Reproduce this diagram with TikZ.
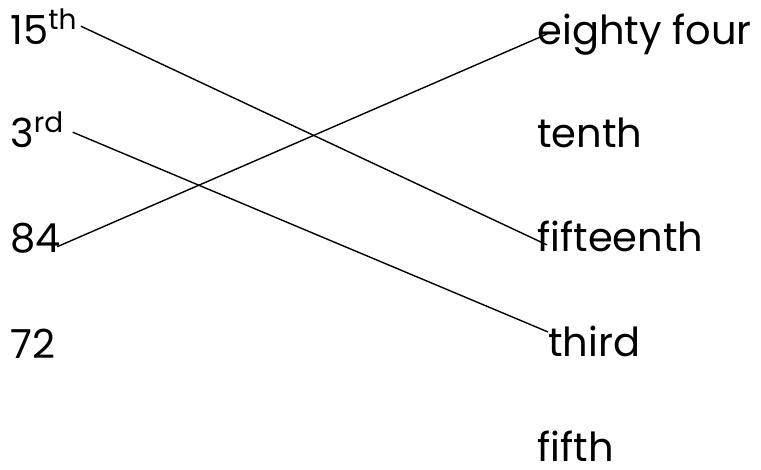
\documentclass[tikz,border=0pt]{standalone}
\usepackage{fontspec}
\setmainfont{Poppins}
\tikzstyle{num}=[anchor=base west,inner sep=0pt,font=\fontsize{20}{24}\selectfont]
\tikzstyle{word}=[anchor=base west,inner sep=0pt,font=\fontsize{20}{24}\selectfont]
\tikzstyle{link}=[line width=0.7pt]
\begin{document}
\begin{tikzpicture}[x=0.5pt,y=-0.5pt]
  \useasboundingbox (0,0) rectangle (761,470);
  % numbers
  \node[num] (n15) at (10,45) {15\textsuperscript{th}};
  \node[num] (n3) at (10,148) {3\textsuperscript{rd}};
  \node[num] (n84) at (10,253) {84};
  \node[num] (n72) at (10,358) {72};
  % words
  \node[word] (w84) at (537,45) {eighty four};
  \node[word] (w10) at (537,148) {tenth};
  \node[word] (w15) at (537,252) {fifteenth};
  \node[word] (w3) at (548,357) {third};
  \node[word] (w5) at (537,461) {fifth};
  % matching lines
  \draw[link] ([xshift=1.5pt,yshift=0.5pt]n15.east) -- ([xshift=5pt,yshift=-4pt]w15.west);
  \draw[link] ([xshift=4pt,yshift=-1pt]n3.east) -- ([xshift=0pt,yshift=5pt]w3.west);
  \draw[link] ([xshift=-2pt,yshift=-4pt]n84.east) -- ([xshift=5pt,yshift=0.5pt]w84.west);
\end{tikzpicture}
\end{document}
